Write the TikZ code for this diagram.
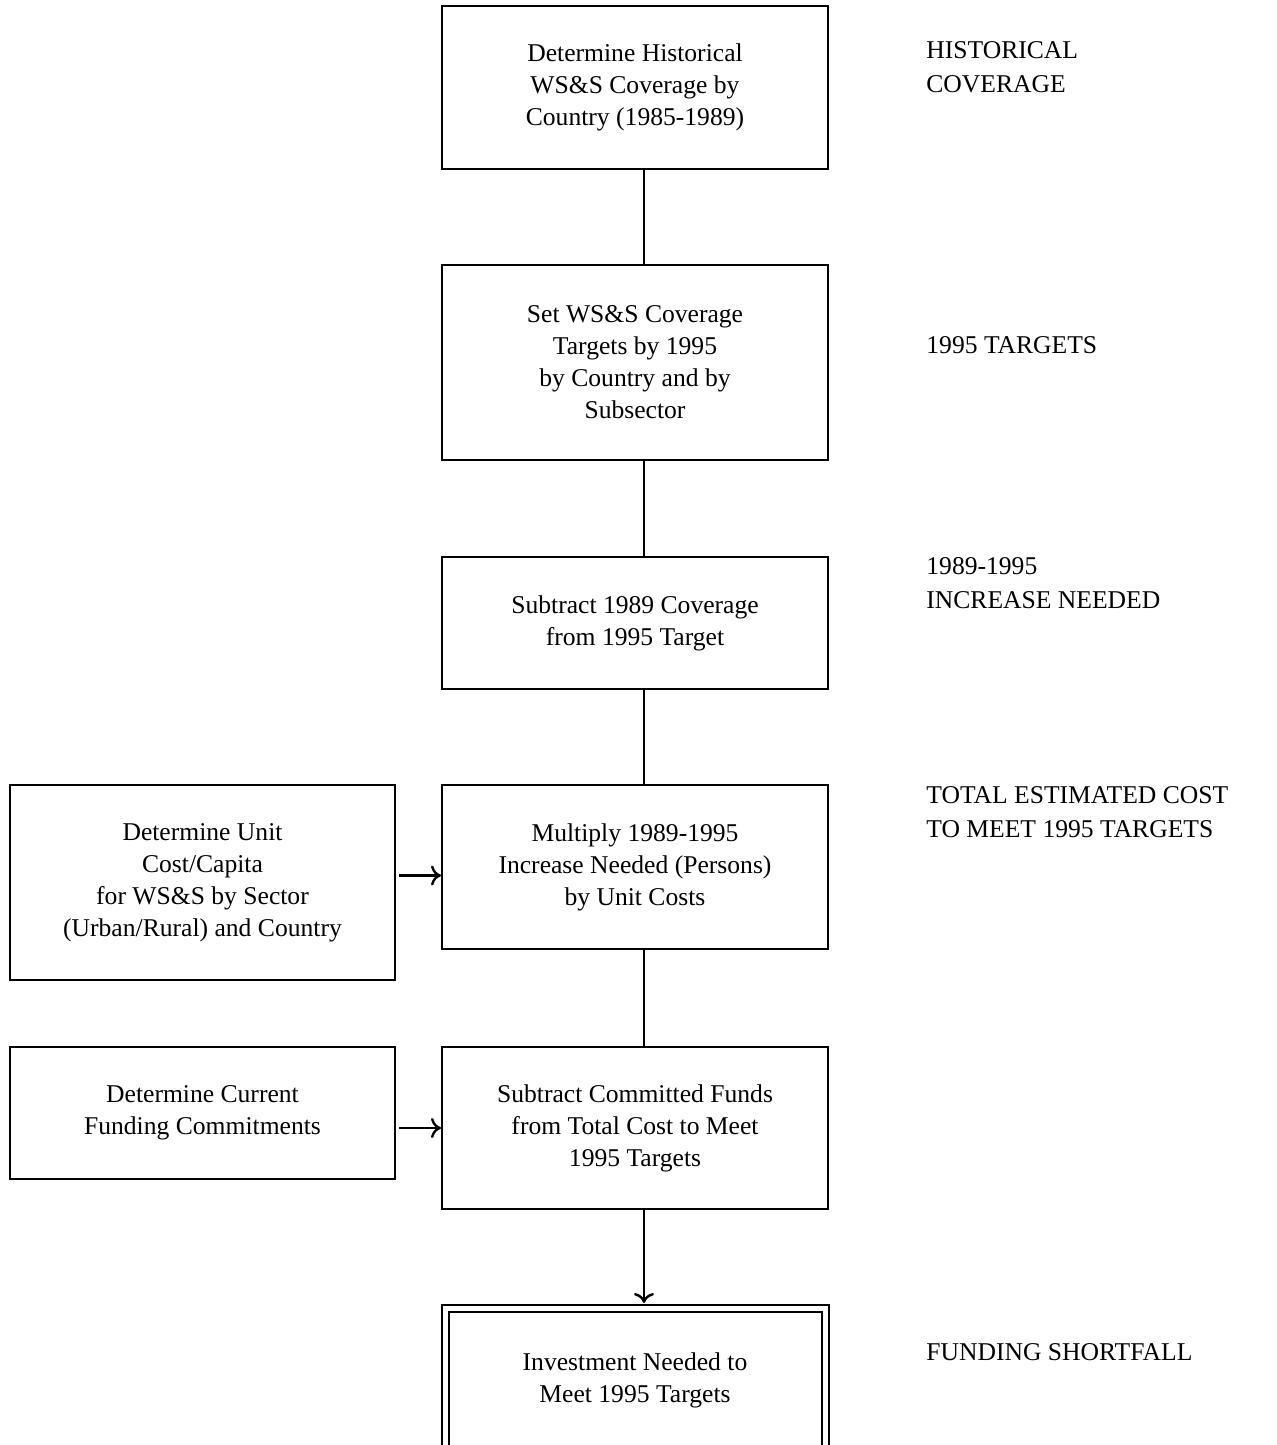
\documentclass[tikz,border=0pt]{standalone}
\usepackage{fontspec}
\setmainfont{Liberation Serif}
\usetikzlibrary{shapes,arrows,arrows.meta,positioning}
\tikzstyle{arrow} = [line width=1.2pt,->,>={To[length=5pt,width=10pt]}]
\tikzstyle{link} = [line width=1.2pt]
\tikzstyle{stage} = [draw,line width=1pt,minimum width=193pt,align=center,inner sep=0pt,font=\fontsize{12.8}{16}\selectfont]
\tikzstyle{note} = [align=left,inner sep=0pt,font=\fontsize{12.8}{17}\selectfont]

\begin{document}
\begin{tikzpicture}
  \useasboundingbox (0,0) rectangle (638.5pt,-722.5pt);
  % main column
  \node[stage,minimum height=81.5pt] (hist) at (317.5pt,-43.75pt) {Determine Historical\\WS\&S Coverage by\\Country (1985-1989)};
  \node[stage,minimum height=97.5pt,below=47pt of hist] (targets) {Set WS\&S Coverage\\Targets by 1995\\by Country and by\\Subsector};
  \node[stage,minimum height=66pt,below=47.5pt of targets] (subtract) {Subtract 1989 Coverage\\from 1995 Target};
  \node[stage,minimum height=82pt,below=47pt of subtract] (multiply) {Multiply 1989-1995\\Increase Needed (Persons)\\by Unit Costs};
  \node[stage,minimum height=81pt,below=48pt of multiply] (committed) {Subtract Committed Funds\\from Total Cost to Meet\\1995 Targets};
  \node[stage,double,double distance=2.5pt,minimum width=190pt,minimum height=72pt,below=48.5pt of committed] (invest) {Investment Needed to\\Meet 1995 Targets};
  % side inputs
  \node[stage,minimum width=192.5pt,minimum height=97.5pt,left=22.5pt of multiply.north west,anchor=north east] (unitcost) {Determine Unit\\Cost/Capita\\for WS\&S by Sector\\(Urban/Rural) and Country};
  \node[stage,minimum width=192.5pt,minimum height=66pt,left=22.5pt of committed.north west,anchor=north east] (funding) {Determine Current\\Funding Commitments};
  % stage notes
  \node[note,right=48.5pt of hist,yshift=10.25pt] (lblhist) {HISTORICAL\\COVERAGE};
  \node[note,right=48.5pt of targets,yshift=8.75pt] (lbltargets) {1995 TARGETS};
  \node[note,right=48.5pt of subtract,yshift=19.75pt] (lblincrease) {1989-1995\\INCREASE NEEDED};
  \node[note,right=48.5pt of multiply,yshift=27.5pt] (lblcost) {TOTAL ESTIMATED COST\\TO MEET 1995 TARGETS};
  \node[note,right=50pt of invest,yshift=14pt] (lblshort) {FUNDING SHORTFALL};
  % connectors
  \draw[link] ([xshift=4.5pt]hist.south) -- ([xshift=4.5pt]targets.north);
  \draw[link] ([xshift=4.5pt]targets.south) -- ([xshift=4.5pt]subtract.north);
  \draw[link] ([xshift=4.5pt]subtract.south) -- ([xshift=4.5pt]multiply.north);
  \draw[link] ([xshift=4.5pt]multiply.south) -- ([xshift=4.5pt]committed.north);
  \draw[arrow] ([xshift=4.5pt]committed.south) -- ([xshift=4.5pt,yshift=2pt]invest.north);
  \draw[arrow,shorten <=1.5pt] ([yshift=3.5pt]unitcost.east) -- ([yshift=3.5pt]unitcost.east -| multiply.west);
  \draw[arrow,shorten <=1.5pt] (funding.east |- committed.west) -- (committed.west);
\end{tikzpicture}
\end{document}
